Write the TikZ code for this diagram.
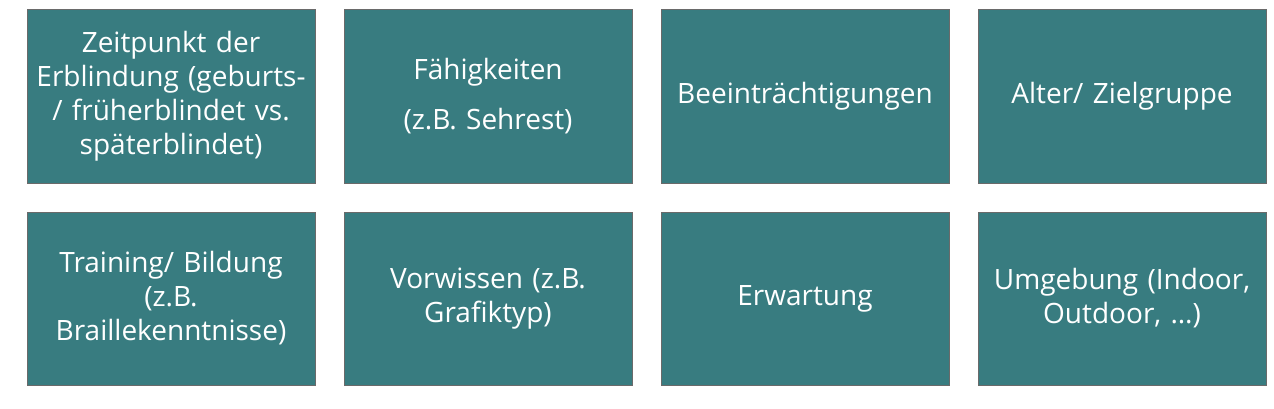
\documentclass[tikz,border=0pt]{standalone}
\usepackage{fontspec}
\setmainfont{Open Sans}
\usepackage{xcolor}
\usepackage{tikz}
\usetikzlibrary{positioning}
\definecolor{teal}{HTML}{387C80}
\definecolor{rim}{HTML}{6A6A6A}

\begin{document}
\begin{tikzpicture}[
    x=1pt,y=1pt,
    node distance=28pt,
    box/.style={draw=rim,line width=1pt,fill=teal,text=white,minimum width=288pt,minimum height=173pt,
      text width=282pt,align=center,inner sep=0pt,font=\fontsize{28}{34}\selectfont}
  ]
    \useasboundingbox (0,0) rectangle (1274,408);
    \node[box] (zeit) at (171,311.5) {Zeitpunkt der\\Erblindung (geburts-\\/ früherblindet vs.\\späterblindet)};
    \node[box,right=of zeit] (faehig) {Fähigkeiten\\[16pt](z.B. Sehrest)};
    \node[box,right=of faehig] (beeintr) {Beeinträchtigungen};
    \node[box,right=of beeintr] (alter) {Alter/ Zielgruppe};
    \node[box,below=of zeit] (training) {Training/ Bildung\\(z.B.\\Braillekenntnisse)};
    \node[box,right=of training] (vorwissen) {Vorwissen (z.B.\\Grafiktyp)};
    \node[box,right=of vorwissen] (erwartung) {Erwartung};
    \node[box,right=of erwartung] (umgebung) {Umgebung (Indoor,\\Outdoor, …)};
  \end{tikzpicture}
\end{document}
